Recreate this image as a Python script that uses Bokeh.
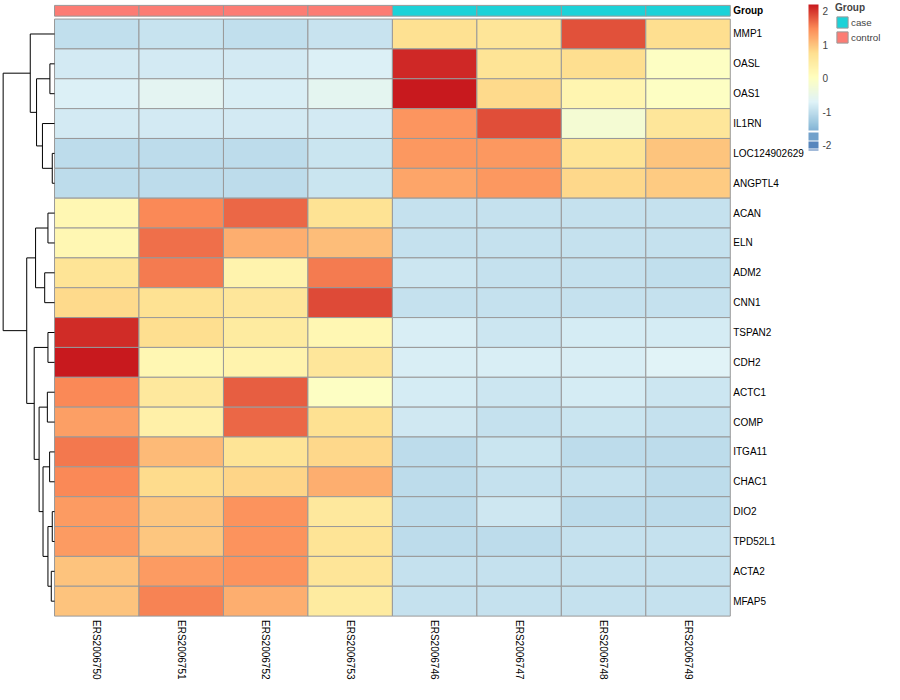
import numpy as np
from bokeh.plotting import figure
from bokeh.models import (ColumnDataSource, LinearColorMapper, ColorBar, FixedTicker,
                          Range1d, Legend, LegendItem)
from bokeh.transform import transform
from bokeh.core.properties import value
from bokeh.embed import file_html
from bokeh.resources import INLINE

# ---------------- data ----------------
genes = ["MMP1", "OASL", "OAS1", "IL1RN", "LOC124902629", "ANGPTL4", "ACAN", "ELN",
         "ADM2", "CNN1", "TSPAN2", "CDH2", "ACTC1", "COMP", "ITGA11", "CHAC1",
         "DIO2", "TPD52L1", "ACTA2", "MFAP5"]
samples = ["ERS2006750", "ERS2006751", "ERS2006752", "ERS2006753",
           "ERS2006746", "ERS2006747", "ERS2006748", "ERS2006749"]
groups = ["control", "control", "control", "control", "case", "case", "case", "case"]
group_levels = ["case", "control"]
group_colors = ["#1CD2D8", "#FC7C74"]

# row-scaled z-scores, one list per sample (gene order as above)
ERS2006750 = [-0.98, -0.82, -0.74, -0.82, -1.02, -1.02, 0.20, 0.20, 0.65, 0.80,
              2.08, 2.20, 1.50, 1.31, 1.60, 1.50, 1.35, 1.35, 1.00, 1.00]
ERS2006751 = [-0.93, -0.82, -0.62, -0.82, -1.02, -1.02, 1.50, 1.66, 1.59, 0.70,
              0.75, 0.20, 0.55, 0.38, 1.08, 0.78, 0.98, 0.98, 1.35, 1.54]
ERS2006752 = [-0.98, -0.82, -0.76, -0.82, -1.02, -1.02, 1.71, 1.19, 0.30, 0.60,
              0.50, 0.30, 1.77, 1.71, 0.65, 0.85, 1.42, 1.42, 1.42, 1.19]
ERS2006753 = [-0.92, -0.74, -0.60, -0.82, -0.90, -0.90, 0.68, 1.05, 1.59, 1.89,
              0.20, 0.60, -0.02, 0.72, 0.82, 1.19, 0.55, 0.65, 0.62, 0.50]
ERS2006746 = [0.72, 2.10, 2.20, 1.40, 1.38, 1.26, -0.94, -0.94, -0.88, -0.94,
              -0.76, -0.76, -0.80, -0.85, -1.02, -1.02, -1.02, -1.02, -0.95, -0.95]
ERS2006747 = [0.62, 0.65, 0.80, 1.86, 1.38, 1.38, -0.94, -0.94, -0.94, -0.94,
              -0.88, -0.76, -0.88, -0.95, -0.90, -0.95, -0.86, -1.02, -0.95, -0.95]
ERS2006748 = [1.85, 0.75, 0.26, -0.23, 0.65, 0.82, -0.94, -0.94, -0.94, -0.94,
              -0.80, -0.76, -0.80, -0.90, -1.02, -0.95, -1.02, -0.95, -0.95, -0.95]
ERS2006749 = [0.75, -0.02, -0.02, 0.60, 0.99, 0.93, -0.94, -0.94, -0.98, -0.94,
              -0.80, -0.68, -0.88, -0.95, -1.02, -1.02, -1.02, -0.95, -0.95, -0.95]
sample_values = [ERS2006750, ERS2006751, ERS2006752, ERS2006753,
                 ERS2006746, ERS2006747, ERS2006748, ERS2006749]

# row dendrogram (leaf ids = gene index; new node ids start at 20), merge heights
link_left = [4, 16, 18, 1, 14, 6, 10, 21, 12, 8, 24, 3, 28, 23, 25, 26, 0, 34, 36]
link_right = [5, 17, 19, 2, 15, 7, 11, 22, 13, 9, 27, 20, 30, 31, 29, 32, 33, 35, 37]
link_height = [2.3, 2.3, 3.3, 4.7, 5.0, 6.7, 6.7, 6.7, 7.3, 10.0, 11.7, 12.3, 15.7,
               18.3, 19.3, 20.7, 24.7, 28.3, 52.3]

legend_ticks = [-2, -1, 0, 1, 2]
scale_low, scale_high = -2.15, 2.2
# stepped bottom of the colour key (block edges, in scale units)
key_block_edges = [-1.588, -1.855, -2.104]

# ---------------- colours ----------------
anchor_cols = ["#4575B4", "#91BFDB", "#E0F3F8", "#FFFFBF", "#FEE090", "#FC8D59", "#C8191E"]
def hex2rgb(h):
    return np.array([int(h[i:i + 2], 16) for i in (1, 3, 5)], dtype=float)
anc = np.array([hex2rgb(c) for c in anchor_cols])
t_anc = np.linspace(0, 1, len(anchor_cols))

def col_at(v):
    t = (v - scale_low) / (scale_high - scale_low)
    rgb = [np.interp(t, t_anc, anc[:, k]) for k in range(3)]
    return "#%02x%02x%02x" % tuple(int(round(c)) for c in rgb)

NPAL = 600
pal_vals = np.linspace(scale_low, scale_high, NPAL)
palette = [col_at(v) for v in pal_vals]
mapper = LinearColorMapper(palette=palette, low=scale_low, high=scale_high)

# colour-key palette: same ramp, with stepped blocks at the bottom
gap = 0.025
key_palette = []
bounds = key_block_edges + [scale_low]
for v in pal_vals:
    if v >= bounds[0] + gap:
        key_palette.append(col_at(v))
        continue
    c = None
    for k in range(len(bounds) - 1):
        hi, lo = bounds[k], bounds[k + 1]
        if abs(v - hi) < gap:
            c = "#ffffff"
            break
        if lo <= v < hi:
            c = col_at((hi + lo) / 2)
            break
    key_palette.append(c if c else col_at(v))
key_mapper = LinearColorMapper(palette=key_palette, low=scale_low, high=scale_high)

# ---------------- figure ----------------
W, H = 884, 684
CW, RH = 86.0, 30.55          # reference pixel size of one cell
X0, Y0 = 55.0, 19.0           # reference pixel of heatmap top-left
p = figure(width=W, height=H, output_backend="svg", toolbar_location=None,
           x_axis_type=None, y_axis_type=None, min_border=0,
           x_range=Range1d(-X0 / CW, (900 - X0) / CW),
           y_range=Range1d((700 - Y0) / RH, -Y0 / RH))
p.grid.visible = False
p.outline_line_color = None
p.background_fill_color = "white"
p.border_fill_color = "white"

# heatmap cells
xs, ys, vals = [], [], []
for j, col in enumerate(sample_values):
    for i, v in enumerate(col):
        xs.append(j + 0.5)
        ys.append(i + 0.5)
        vals.append(v)
src = ColumnDataSource(dict(x=xs, y=ys, v=vals))
p.rect(x="x", y="y", width=1, height=1, source=src,
       fill_color=transform("v", mapper), line_color="#999999", line_width=1)

# group annotation bar
ANNO_Y, ANNO_H = -0.278, 0.36
anno_src = ColumnDataSource(dict(
    x=[j + 0.5 for j in range(len(samples))],
    y=[ANNO_Y] * len(samples),
    g=groups,
    c=[group_colors[group_levels.index(g)] for g in groups]))
anno_r = p.rect(x="x", y="y", width=1, height=ANNO_H, source=anno_src,
                fill_color="c", line_color="#999999", line_width=1)

# dendrogram
DS = 1.0 / CW
node_y = {i: i + 0.5 for i in range(len(genes))}
node_h = {i: 0.0 for i in range(len(genes))}
sx0, sy0, sx1, sy1 = [], [], [], []
for k, (a, b, h) in enumerate(zip(link_left, link_right, link_height)):
    nid = len(genes) + k
    xa, xb, xm = -node_h[a] * DS, -node_h[b] * DS, -h * DS
    ya, yb = node_y[a], node_y[b]
    sx0 += [xa, xb, xm]
    sy0 += [ya, yb, ya]
    sx1 += [xm, xm, xm]
    sy1 += [ya, yb, yb]
    node_y[nid] = (ya + yb) / 2
    node_h[nid] = h
p.segment(x0=sx0, y0=sy0, x1=sx1, y1=sy1, line_color="black", line_width=1)

FONT = value("Liberation Sans")
# row labels
LX = len(samples) + 3.0 / CW
p.text(x=[LX] * len(genes), y=[i + 0.5 for i in range(len(genes))], text=genes,
       text_font=FONT, text_font_size="10px", text_align="left",
       text_baseline="middle", text_color="black")
p.text(x=[LX], y=[ANNO_Y], text=["Group"], text_font=FONT, text_font_size="10px",
       text_font_style="bold", text_align="left", text_baseline="middle",
       text_color="black")
# column labels
p.text(x=[j + 0.5 for j in range(len(samples))],
       y=[len(genes) + 4.0 / RH] * len(samples), text=samples,
       angle=-np.pi / 2, text_font=FONT, text_font_size="10px",
       text_align="left", text_baseline="middle", text_color="black")

# colour bar
cb = ColorBar(color_mapper=key_mapper, location=(808, 534), width=10, height=146,
              ticker=FixedTicker(ticks=legend_ticks), padding=0, margin=0,
              label_standoff=4, major_label_text_font_size="10px",
              major_label_text_font="Liberation Sans",
              major_label_overrides={t: str(t) for t in legend_ticks},
              major_tick_line_color=None, minor_tick_line_color=None,
              bar_line_color=None, border_line_color=None,
              background_fill_alpha=0)
p.add_layout(cb)

# group legend
leg = Legend(items=[LegendItem(label=g, renderers=[anno_r],
                               index=groups.index(g)) for g in group_levels],
             location=(835, 640), title="Group", title_text_font_style="bold",
             title_text_font_size="10px", title_text_font="Liberation Sans",
             label_text_font="Liberation Sans", label_text_font_size="9.8px",
             glyph_width=14, glyph_height=14, label_height=14, spacing=1,
             label_standoff=2, title_standoff=2, padding=0, margin=0,
             border_line_color=None, background_fill_alpha=0)
p.add_layout(leg)

open("out.html", "w").write(file_html(p, INLINE))
